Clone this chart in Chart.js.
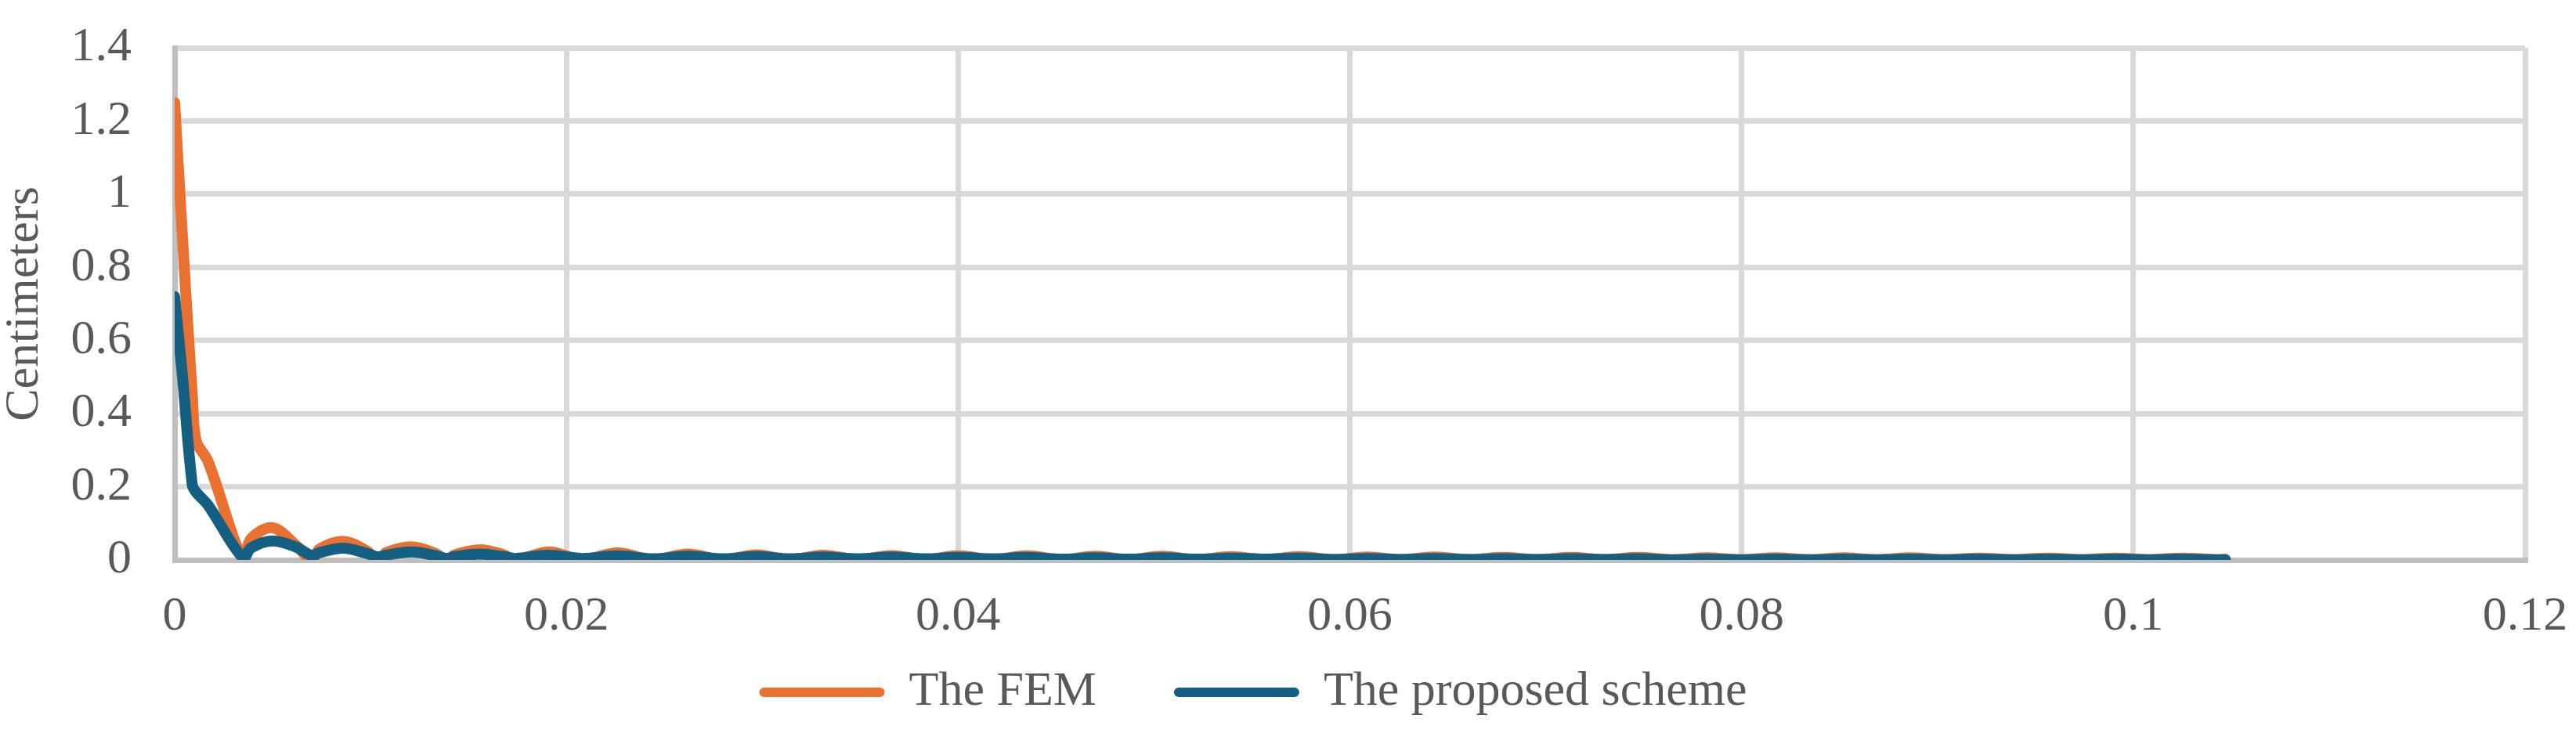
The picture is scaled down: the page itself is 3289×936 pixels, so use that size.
<!DOCTYPE html>
<html>
<head>
<meta charset="utf-8">
<title>Centimeters</title>
<script src="https://cdn.jsdelivr.net/npm/chart.js@4.4.1/dist/chart.umd.min.js"></script>
<style>
  html, body { margin: 0; padding: 0; background: #ffffff; }
  #wrap { width: 3289px; height: 936px; position: relative; }
</style>
</head>
<body>
<div id="wrap"><canvas id="dispChart"></canvas></div>
<script>
// time (x axis)
const timeS = [
  0, 0.0004, 0.0009, 0.0011, 0.0017,
  0.0035, 0.0039, 0.0050, 0.0062,
  0.0070, 0.0074, 0.0086, 0.0098,
  0.0104, 0.0108, 0.0121, 0.0133,
  0.0139, 0.0143, 0.0156, 0.0168,
  0.0174, 0.0191,
  0.0208, 0.0226, 0.0244, 0.0262, 0.0280, 0.0297, 0.0314, 0.0331, 0.0349, 0.0366,
  0.0383, 0.0400, 0.0418, 0.0435, 0.0453, 0.0470, 0.0487, 0.0504, 0.0522, 0.0539,
  0.0557, 0.0574, 0.0592, 0.0609, 0.0626, 0.0643, 0.0661, 0.0678, 0.0696, 0.0713,
  0.0730, 0.0747, 0.0765, 0.0782, 0.0800, 0.0817, 0.0835, 0.0852, 0.0869, 0.0886,
  0.0904, 0.0921, 0.0939, 0.0956, 0.0974, 0.0991, 0.1008, 0.1025, 0.1043, 0.1047
];

// The FEM (cm)
const femCm = [
  1.25, 0.88, 0.45, 0.325, 0.27,
  0.0, 0.058, 0.088, 0.04,
  0.0, 0.03, 0.051, 0.025,
  0.0, 0.02, 0.036, 0.018,
  0.0, 0.014, 0.028, 0.014,
  0.0, 0.022,
  0.001, 0.019, 0.001, 0.016, 0.001, 0.014, 0.001, 0.013, 0.001, 0.012,
  0.001, 0.011, 0.001, 0.011, 0.001, 0.010, 0.001, 0.010, 0.001, 0.009,
  0.001, 0.009, 0.001, 0.008, 0.001, 0.008, 0.001, 0.007, 0.001, 0.007,
  0.001, 0.007, 0.001, 0.006, 0.001, 0.006, 0.001, 0.006, 0.001, 0.006,
  0.001, 0.005, 0.001, 0.005, 0.001, 0.005, 0.001, 0.005, 0.001, 0.002
];

// The proposed scheme (cm)
const schemeCm = [
  0.72, 0.50, 0.205, 0.185, 0.15,
  0.005, 0.033, 0.052, 0.035,
  0.012, 0.02, 0.032, 0.018,
  0.008, 0.013, 0.022, 0.012,
  0.004, 0.009, 0.016, 0.009,
  0.004, 0.013,
  0.004, 0.011, 0.003, 0.010, 0.003, 0.009, 0.003, 0.008, 0.003, 0.008,
  0.003, 0.007, 0.003, 0.007, 0.002, 0.006, 0.002, 0.006, 0.002, 0.005,
  0.002, 0.005, 0.001, 0.004, 0.001, 0.004, 0.001, 0.003, 0.001, 0.003,
  0.001, 0.003, 0.0, 0.002, 0.0, 0.002, 0.0, 0.002, 0.0, 0.002,
  0.0, 0.002, 0.0, 0.002, 0.0, 0.002, 0.0, 0.002, 0.0, 0.0
];

const seriesNames = ['The FEM', 'The proposed scheme'];
const xMax = 0.12, xStep = 0.02;
const yMax = 1.4, yStep = 0.2;

const textColor = '#595959';
const gridColor = '#D9D9D9';
const axisColor = '#BFBFBF';

Chart.defaults.font.family = "'Liberation Serif', 'Times New Roman', serif";
Chart.defaults.font.size = 62;
Chart.defaults.color = textColor;

function toPoints(xs, ys) {
  return xs.map((x, i) => ({ x: x, y: ys[i] }));
}
function fmt(v) {
  return String(+Number(v).toFixed(3));
}
// hide grid line at 0, the axis border sits there
function gridAt(ctx) {
  return ctx.tick && ctx.tick.value === 0 ? 'rgba(0,0,0,0)' : gridColor;
}

// legend items start higher than the layout would put them (wide item gap = padding)
const legendShift = {
  id: 'legendShift',
  afterLayout(chart) {
    const lg = chart.legend;
    if (!lg) return;
    lg.top -= 71;
    lg.height = lg.bottom - lg.top;
    lg.left -= 12; lg.right -= 12;
  }
};

const ctx = document.getElementById('dispChart').getContext('2d');
new Chart(ctx, {
  type: 'line',
  data: {
    datasets: [
      {
        label: seriesNames[0],
        data: toPoints(timeS, femCm),
        borderColor: '#E97132',
        backgroundColor: '#E97132',
        borderWidth: 14,
        borderCapStyle: 'round',
        borderJoinStyle: 'round',
        pointRadius: 0,
        tension: 0.35,
        order: 1
      },
      {
        label: seriesNames[1],
        data: toPoints(timeS, schemeCm),
        borderColor: '#156082',
        backgroundColor: '#156082',
        borderWidth: 14,
        borderCapStyle: 'round',
        borderJoinStyle: 'round',
        pointRadius: 0,
        tension: 0.35,
        order: 0
      }
    ]
  },
  plugins: [legendShift],
  options: {
    responsive: true,
    maintainAspectRatio: false,
    animation: false,
    layout: { padding: { top: 61, right: 65, bottom: 12, left: 0 } },
    plugins: {
      tooltip: { enabled: false },
      legend: {
        position: 'bottom',
        maxHeight: 99,
        labels: {
          boxWidth: 160,
          boxHeight: 12,
          padding: 99,
          color: textColor,
          font: { size: 62 },
          sort: (a, b) => a.datasetIndex - b.datasetIndex,
          generateLabels: chart => Chart.defaults.plugins.legend.labels.generateLabels(chart)
            .map(l => Object.assign(l, { lineWidth: 0, borderRadius: 6 }))
        }
      }
    },
    scales: {
      x: {
        type: 'linear',
        min: 0,
        max: xMax,
        grid: { color: gridAt, lineWidth: 7, drawTicks: false },
        border: { color: axisColor, width: 7 },
        ticks: {
          stepSize: xStep,
          padding: 36,
          maxRotation: 0,
          autoSkip: false,
          color: textColor,
          callback: v => fmt(v)
        },
        afterFit: s => { s.height = 110; s.paddingLeft = 0; s.paddingRight = 0; }
      },
      y: {
        min: 0,
        max: yMax,
        grid: { color: gridAt, lineWidth: 7, drawTicks: false },
        border: { color: axisColor, width: 7 },
        ticks: {
          stepSize: yStep,
          padding: 55,
          autoSkip: false,
          color: textColor,
          callback: v => fmt(v)
        },
        title: {
          display: true,
          text: 'Centimeters',
          color: textColor,
          font: { size: 62, lineHeight: 1 },
          padding: { top: 1, bottom: 0 }
        },
        afterFit: s => { s.width = 223; s.paddingTop = 0; s.paddingBottom = 0; }
      }
    }
  }
});
</script>
</body>
</html>
